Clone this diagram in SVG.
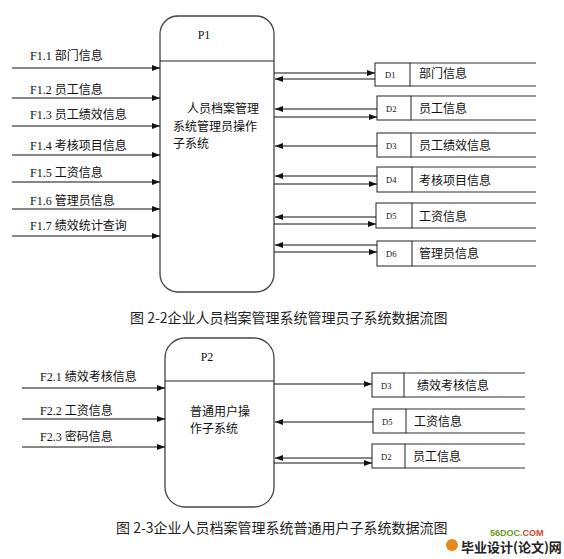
<svg xmlns="http://www.w3.org/2000/svg" width="564" height="559" viewBox="0 0 564 559">
<style>
text{font-family:"Liberation Serif","Noto Sans CJK SC",serif;fill:#111}
.lbl{font-size:12px}
.cj{font-family:"Noto Sans CJK SC","Liberation Sans",sans-serif;font-size:12px}
.d{font-size:8.5px}
.cap{font-family:"Noto Sans CJK SC","Liberation Sans",sans-serif;font-size:14px;fill:#222}
.proc{fill:#fff;stroke:#444;stroke-width:1.3}
.div{stroke:#222;stroke-width:1.1}
.box{fill:#fff;stroke:#222;stroke-width:1}
.sl{stroke:#333;stroke-width:1.1}
.flow line{stroke:#111;stroke-width:1.1;marker-end:url(#ah)}
</style>
<defs>
<marker id="ah" markerWidth="8" markerHeight="6" refX="8" refY="3" orient="auto" markerUnits="userSpaceOnUse">
<path d="M0,0 L8,3 L0,6 z" fill="#111"/>
</marker>
</defs>
<rect width="564" height="559" fill="#fff"/>

<g id="P1">
<rect class="proc" x="160" y="16" width="114" height="276" rx="18" ry="18"/>
<line class="div" x1="160" y1="61" x2="274" y2="61"/>
<text class="lbl" x="204" y="39" text-anchor="middle">P1</text>
<text class="cj" x="187" y="113">人员档案管理</text>
<text class="cj" x="173" y="131">系统管理员操作</text>
<text class="cj" x="173" y="148">子系统</text>
</g>

<g id="D1_1">
<rect class="box" x="375" y="63" width="35" height="23"/>
<line class="sl" x1="410" y1="63" x2="536" y2="63"/>
<line class="sl" x1="410" y1="86" x2="536" y2="86"/>
<text class="d" x="385" y="78">D1</text>
<text class="cj" x="419" y="78">部门信息</text>
</g>
<g id="D2_1">
<rect class="box" x="377" y="96" width="34" height="24"/>
<line class="sl" x1="411" y1="96" x2="536" y2="96"/>
<line class="sl" x1="411" y1="120" x2="536" y2="120"/>
<text class="d" x="386" y="112">D2</text>
<text class="cj" x="419" y="113">员工信息</text>
</g>
<g id="D3_1">
<rect class="box" x="377" y="133" width="34" height="24"/>
<line class="sl" x1="411" y1="133" x2="536" y2="133"/>
<line class="sl" x1="411" y1="157" x2="536" y2="157"/>
<text class="d" x="386" y="149">D3</text>
<text class="cj" x="419" y="150">员工绩效信息</text>
</g>
<g id="D4_1">
<rect class="box" x="377" y="167" width="35" height="25"/>
<line class="sl" x1="412" y1="167" x2="536" y2="167"/>
<line class="sl" x1="412" y1="192" x2="536" y2="192"/>
<text class="d" x="386" y="183">D4</text>
<text class="cj" x="419" y="185">考核项目信息</text>
</g>
<g id="D5_1">
<rect class="box" x="376" y="203" width="36" height="25"/>
<line class="sl" x1="412" y1="203" x2="536" y2="203"/>
<line class="sl" x1="412" y1="228" x2="536" y2="228"/>
<text class="d" x="386" y="219">D5</text>
<text class="cj" x="419" y="221">工资信息</text>
</g>
<g id="D6_1">
<rect class="box" x="377" y="241" width="35" height="25"/>
<line class="sl" x1="412" y1="241" x2="536" y2="241"/>
<line class="sl" x1="412" y1="266" x2="536" y2="266"/>
<text class="d" x="386" y="257">D6</text>
<text class="cj" x="419" y="258">管理员信息</text>
</g>

<g id="inputs1">
<text class="lbl" x="30" y="60">F1.1 部门信息</text>
<text class="lbl" x="30" y="94">F1.2 员工信息</text>
<text class="lbl" x="30" y="119">F1.3 员工绩效信息</text>
<text class="lbl" x="30" y="150">F1.4 考核项目信息</text>
<text class="lbl" x="30" y="177">F1.5 工资信息</text>
<text class="lbl" x="30" y="205">F1.6 管理员信息</text>
<text class="lbl" x="30" y="230">F1.7 绩效统计查询</text>
</g>

<text class="cap" x="130" y="323">图 2-2企业人员档案管理系统管理员子系统数据流图</text>

<g id="P2">
<rect class="proc" x="165" y="338" width="109" height="169" rx="20" ry="20"/>
<line class="div" x1="165" y1="381" x2="274" y2="381"/>
<text class="lbl" x="207" y="361" text-anchor="middle">P2</text>
<text class="cj" x="190" y="416">普通用户操</text>
<text class="cj" x="190" y="433">作子系统</text>
</g>

<g id="D3_2">
<rect class="box" x="372" y="373" width="32" height="24"/>
<line class="sl" x1="404" y1="373" x2="525" y2="373"/>
<line class="sl" x1="404" y1="397" x2="525" y2="397"/>
<text class="d" x="381" y="389">D3</text>
<text class="cj" x="417" y="390">绩效考核信息</text>
</g>
<g id="D5_2">
<rect class="box" x="373" y="409" width="33" height="24"/>
<line class="sl" x1="406" y1="409" x2="525" y2="409"/>
<line class="sl" x1="406" y1="433" x2="525" y2="433"/>
<text class="d" x="382" y="425">D5</text>
<text class="cj" x="414" y="426">工资信息</text>
</g>
<g id="D2_2">
<rect class="box" x="372" y="444" width="33" height="24"/>
<line class="sl" x1="405" y1="444" x2="525" y2="444"/>
<line class="sl" x1="405" y1="468" x2="525" y2="468"/>
<text class="d" x="381" y="460">D2</text>
<text class="cj" x="413" y="461">员工信息</text>
</g>

<g id="inputs2">
<text class="lbl" x="40" y="381">F2.1 绩效考核信息</text>
<text class="lbl" x="40" y="415">F2.2 工资信息</text>
<text class="lbl" x="40" y="441">F2.3 密码信息</text>
</g>

<text class="cap" x="116" y="533">图 2-3企业人员档案管理系统普通用户子系统数据流图</text>

<g id="logo">
<circle cx="452" cy="545" r="6" fill="#e8891c"/>
<text x="490" y="536" style="font-family:'Liberation Sans',sans-serif;font-size:9px;font-weight:bold;fill:#6a9a2a">56DOC.<tspan fill="#d2452a">COM</tspan></text>
<text x="461" y="552" style="font-family:'Noto Sans CJK SC',sans-serif;font-size:13px;font-weight:bold;fill:#222">毕业设计(论文)网</text>
</g>

<g id="connectors" class="flow">
<line x1="12" y1="68" x2="160" y2="68"/>
<line x1="12" y1="98" x2="160" y2="98"/>
<line x1="12" y1="126" x2="160" y2="126"/>
<line x1="12" y1="155" x2="160" y2="155"/>
<line x1="12" y1="182" x2="160" y2="182"/>
<line x1="12" y1="209" x2="160" y2="209"/>
<line x1="12" y1="236" x2="160" y2="236"/>
<line x1="274" y1="73" x2="375" y2="73"/>
<line x1="375" y1="79" x2="275" y2="79"/>
<line x1="377" y1="109" x2="275" y2="109"/>
<line x1="274" y1="117" x2="377" y2="117"/>
<line x1="377" y1="146" x2="275" y2="146"/>
<line x1="377" y1="176" x2="275" y2="176"/>
<line x1="274" y1="184" x2="377" y2="184"/>
<line x1="376" y1="217" x2="275" y2="217"/>
<line x1="274" y1="224" x2="376" y2="224"/>
<line x1="377" y1="245" x2="275" y2="245"/>
<line x1="274" y1="252" x2="377" y2="252"/>
<line x1="22" y1="388" x2="165" y2="388"/>
<line x1="22" y1="419" x2="165" y2="419"/>
<line x1="22" y1="447" x2="165" y2="447"/>
<line x1="274" y1="384" x2="372" y2="384"/>
<line x1="373" y1="422" x2="275" y2="422"/>
<line x1="372" y1="458" x2="275" y2="458"/>
<line x1="274" y1="463" x2="372" y2="463"/>
</g>
</svg>
